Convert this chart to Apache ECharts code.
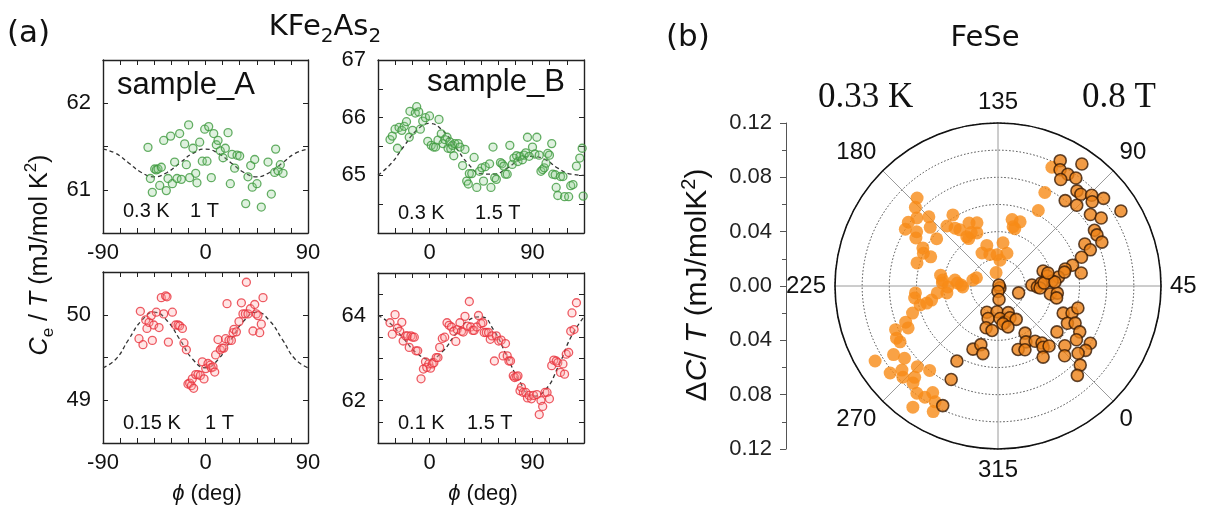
<!DOCTYPE html>
<html><head><meta charset="utf-8">
<script src="https://cdn.jsdelivr.net/npm/echarts@6/dist/echarts.min.js"></script>
<style>html,body{margin:0;padding:0;background:#fff}#c{width:1211px;height:510px}</style>
</head><body><div id="c"></div>
<script>
// ---------- DATA ----------
// Panel (a) top-left: sample_A, 0.3 K, 1 T  [phi(deg), Ce/T]
const sampleA_03K = [[-50.5,61.49],[-48.4,61.13],[-44.6,61.24],[-43.2,61.23],[-41.7,61.24],[-40.2,61.05],[-46.7,60.97],[-38.8,61.26],[-36.7,61.57],[-34.4,60.99],[-32.9,61.13],[-30.6,61.62],[-29.1,61.07],[-27.1,61.32],[-25.0,61.13],[-22.7,61.65],[-21.2,61.12],[-18.3,61.53],[-16.8,61.29],[-14.8,61.75],[-13.9,61.14],[-11.0,61.48],[-8.6,61.19],[-7.5,61.08],[-5.1,61.55],[-2.8,61.33],[-0.7,61.70],[1.3,61.33],[2.8,61.73],[5.1,61.14],[7.2,61.65],[9.5,61.52],[11.0,61.57],[13.0,61.45],[15.4,61.37],[17.4,61.48],[19.8,61.66],[21.8,61.07],[23.3,61.41],[25.6,61.25],[27.7,61.40],[30.0,61.39],[35.3,60.84],[37.3,61.15],[39.7,61.28],[41.1,61.03],[43.2,61.35],[45.2,61.07],[49.0,60.80],[54.9,61.32],[57.8,60.95],[60.7,61.20],[61.6,61.47],[63.7,61.22],[65.7,61.29],[68.1,61.19]];
const fitPhiA = [-90,-78.75,-67.5,-56.25,-45,-33.75,-22.5,-11.25,0,11.25,22.5,33.75,45,56.25,67.5,78.75,90];
const fitA_03K = [61.47,61.42,61.31,61.20,61.15,61.20,61.31,61.42,61.47,61.42,61.31,61.20,61.15,61.20,61.31,61.42,61.47];

// Panel (a) top-right: sample_B, 0.3 K, 1.5 T
const sampleB_03K = [[-34.5,65.62],[-32.5,65.68],[-30.1,65.80],[-28.0,65.47],[-26.6,65.83],[-24.2,65.78],[-22.1,65.85],[-20.1,65.93],[-17.7,65.66],[-17.1,66.11],[-14.8,65.78],[-12.4,66.08],[-11.2,66.19],[-9.4,66.10],[-8.0,65.80],[-5.9,65.94],[-3.5,66.00],[-1.5,65.59],[0,66.03],[1.5,65.52],[3.5,65.49],[5.3,65.49],[7.4,65.61],[8.3,65.97],[10.3,65.72],[11.8,65.55],[13.3,65.62],[15.3,65.66],[16.2,65.47],[17.7,65.58],[18.6,65.46],[20.1,65.52],[21.2,65.34],[22.1,65.55],[25.1,65.55],[26.6,65.49],[28.9,65.17],[31.0,65.45],[32.5,64.90],[33.9,64.85],[34.8,65.03],[36.9,65.03],[39.0,65.31],[41.3,64.79],[43.7,65.07],[45.7,65.13],[47.2,64.90],[48.7,65.15],[52.5,65.20],[53.7,64.79],[55.5,65.49],[57.0,64.96],[58.4,64.93],[62.0,65.22],[63.4,65.20],[64.9,65.16],[66.4,65.02],[67.9,65.02],[70.2,65.52],[72.3,65.19],[73.8,65.30],[76.1,65.34],[77.3,65.24],[79.1,65.33],[81.2,65.27],[82.6,65.35],[84.1,65.39],[85.6,65.66],[87.1,65.33],[90.0,65.49],[92.1,65.37],[93.8,65.66],[95.9,65.35],[97.4,65.07],[98.9,65.10],[100.3,65.13],[101.8,65.21],[103.3,65.38],[104.8,65.35],[106.8,65.55],[107.7,65.02],[109.8,65.01],[110.7,64.79],[112.1,64.65],[114.5,64.98],[116.6,64.98],[118.0,64.63],[121.6,64.63],[123.4,64.82],[125.4,64.84],[128.4,65.16],[131.3,65.30],[133.4,65.47],[134.3,64.64]];
const fitPhiB = [-45,-33.75,-22.5,-11.25,0,11.25,22.5,33.75,45,56.25,67.5,78.75,90,101.25,112.5,123.75,135];
const fitB_03K = [65.00,65.20,65.50,65.78,65.90,65.78,65.50,65.20,65.03,65.02,65.12,65.27,65.33,65.27,65.12,65.02,65.00];

// Panel (a) bottom-left: sample_A, 0.15 K, 1 T
const sampleA_015K = [[-58.4,49.72],[-57.2,50.04],[-54.9,49.65],[-52.5,49.94],[-51.4,49.84],[-49.6,49.91],[-47.6,49.99],[-46.7,49.70],[-45.5,49.88],[-43.2,50.03],[-40.8,49.85],[-38.8,50.20],[-36.7,50.01],[-35.0,50.22],[-33.8,50.21],[-32.6,49.68],[-29.1,50.03],[-26.2,49.88],[-24.1,49.88],[-22.7,49.87],[-20.3,49.84],[-18.9,49.67],[-16.8,49.59],[-15.4,49.19],[-13.9,49.20],[-12.4,49.17],[-11.6,49.25],[-10.4,49.14],[-8.6,49.30],[-6.6,49.30],[-4.5,49.29],[-2.8,49.45],[-1.3,49.25],[0.2,49.37],[2.2,49.43],[4.2,49.41],[5.1,49.38],[6.6,49.39],[8.1,49.33],[8.9,49.53],[11.0,49.71],[13.0,49.59],[14.5,49.61],[16.0,49.61],[17.7,49.72],[18.9,50.13],[20.6,49.70],[22.7,49.70],[24.2,49.79],[25.0,49.83],[27.1,49.80],[29.4,49.92],[31.5,50.14],[32.9,50.01],[35.0,50.01],[35.9,50.38],[37.3,50.01],[39.4,50.07],[41.7,49.81],[43.2,50.12],[44.6,50.01],[46.1,49.99],[47.6,49.79],[49.0,49.89],[50.5,50.20]];
const fitA_015K = [49.38,49.48,49.71,49.93,50.03,49.93,49.71,49.48,49.38,49.48,49.71,49.93,50.03,49.93,49.71,49.48,49.38];

// Panel (a) bottom-right: sample_B, 0.1 K, 1.5 T
const sampleB_01K = [[-34.5,63.83],[-32.5,63.56],[-30.1,64.02],[-28.0,63.70],[-26.0,63.63],[-24.2,63.84],[-23.0,63.40],[-20.7,63.52],[-19.2,63.52],[-17.7,63.25],[-16.2,63.52],[-14.8,63.49],[-13.3,63.49],[-11.8,63.17],[-10.3,63.17],[-7.4,62.51],[-5.3,62.74],[-3.5,62.91],[-2.4,62.78],[-0.6,62.86],[0.9,62.76],[2.4,62.86],[3.8,62.89],[5.9,63.01],[7.4,63.01],[8.9,63.25],[11.2,63.46],[13.3,63.49],[15.3,63.83],[17.1,63.77],[19.2,63.73],[21.2,63.63],[23.0,63.39],[24.2,63.67],[26.6,63.83],[28.0,63.63],[29.5,63.61],[31.0,63.98],[33.1,63.75],[34.8,64.33],[36.0,63.73],[37.8,63.65],[39.0,63.65],[41.3,63.73],[42.8,64.00],[44.9,63.81],[46.6,63.83],[47.8,63.60],[49.6,63.60],[51.6,63.60],[53.1,63.44],[54.6,63.52],[56.7,62.93],[58.4,63.52],[60.5,63.40],[62.6,63.42],[64.3,63.05],[66.4,63.34],[67.9,63.05],[69.4,62.93],[70.8,62.93],[73.2,62.58],[74.4,62.54],[76.1,62.56],[77.3,62.58],[79.1,62.23],[80.3,62.31],[82.0,62.19],[84.1,62.19],[85.6,62.06],[87.1,62.12],[89.1,62.04],[90.9,62.12],[93.8,62.14],[95.9,61.67],[97.4,62.00],[98.9,61.86],[100.9,62.19],[102.7,62.19],[104.8,62.04],[106.8,62.82],[108.6,62.95],[110.7,62.93],[112.1,62.89],[114.5,62.66],[116.6,62.86],[118.0,62.62],[119.5,63.09],[121.6,63.13],[123.4,63.63],[124.5,64.06],[126.3,63.67],[128.4,64.30]];
const fitB_01K = [64.00,63.80,63.45,63.12,62.97,63.15,63.55,63.88,63.97,63.65,63.05,62.45,62.10,62.25,62.80,63.50,63.97];

// Panel (b): FeSe polar, [radius dC/T (mJ/molK^2), angle (deg)]
const fese_open = [[0.088,177.6],[0.084,181.4],[0.078,185.0],[0.081,189.6],[0.080,193.5],[0.072,191.3],[0.070,194.7],[0.072,180.0],[0.066,184.1],[0.057,187.4],[0.062,198.1],[0.060,201.3],[0.054,201.6],[0.062,209.1],[0.062,167.4],[0.058,175.4],[0.053,171.6],[0.050,169.2],[0.051,159.7],[0.049,153.4],[0.044,161.6],[0.041,166.7],[0.031,150.4],[0.027,160.9],[0.024,149.5],[0.023,136.8],[0.032,128.4],[0.025,119.7],[0.019,130.6],[0.050,123.0],[0.045,120.7],[0.050,116.0],[0.044,118.7],[0.010,143.1],[0.017,204.1],[0.043,214.3],[0.041,221.9],[0.030,220.8],[0.026,226.6],[0.096,110.6],[0.077,108.4],[0.063,106.9],[0.032,217.1],[0.019,211.5],[0.043,167.3],[0.042,156.6],[0.062,233.2],[0.045,231.5],[0.038,232.8],[0.037,226.1],[0.041,218.9],[0.027,223.4],[0.050,237.0],[0.054,238.5],[0.059,238.7],[0.066,242.6],[0.073,246.4],[0.073,250.0],[0.082,248.1],[0.084,252.2],[0.083,254.7],[0.092,258.3],[0.087,262.7],[0.106,256.4],[0.102,263.9],[0.094,266.2],[0.097,268.8],[0.084,270.0],[0.091,272.6],[0.080,276.0],[0.095,273.8],[0.099,277.9],[0.098,281.7],[0.092,283.5],[0.097,286.5],[0.109,279.9],[0.104,287.7],[0.061,229.8]];
const fese_edged = [[0.103,108.6],[0.109,100.5],[0.097,106.9],[0.097,103.0],[0.098,99.2],[0.091,104.5],[0.091,95.3],[0.091,92.9],[0.096,89.1],[0.101,84.7],[0.080,96.8],[0.083,90.7],[0.093,86.8],[0.106,76.4],[0.086,82.7],[0.091,78.4],[0.082,75.0],[0.082,72.3],[0.083,67.9],[0.071,70.8],[0.073,66.4],[0.065,64.0],[0.057,60.6],[0.051,59.2],[0.062,53.9],[0.035,63.4],[0.037,56.5],[0.045,53.4],[0.040,50.3],[0.025,46.7],[0.029,43.6],[0.032,48.9],[0.002,0],[0.016,26.6],[0.039,36.3],[0.044,38.2],[0.001,90],[0.004,315],[0.010,319.4],[0.031,42.3],[0.034,48.7],[0.042,49.0],[0.038,59.6],[0.050,56.8],[0.044,33.5],[0.021,292.1],[0.019,312.8],[0.021,336.0],[0.025,298.1],[0.024,318.5],[0.027,326.0],[0.025,335.6],[0.028,343.6],[0.028,322.5],[0.032,299.1],[0.033,307.4],[0.031,328.7],[0.052,22.4],[0.058,25.0],[0.061,29.6],[0.058,16.8],[0.063,19.3],[0.055,7.1],[0.069,15.7],[0.070,10.6],[0.080,13.2],[0.080,8.7],[0.077,5.0],[0.084,1.1],[0.088,356.6],[0.040,344.9],[0.046,341.6],[0.049,348.9],[0.053,352.7],[0.056,351.4],[0.058,355.4],[0.049,332.6],[0.051,337.9],[0.062,347.4],[0.066,3.2],[0.071,358.7],[0.050,293.4],[0.045,298.7],[0.051,302.4],[0.063,286.3],[0.077,288.4],[0.097,290.2]];

// Axis ranges / tick labels
const panelX = [[-90,90],[-45,135],[-90,90],[-45,135]];
const panelY = [[60.5,62.5],[64,67],[48.5,50.5],[61,65]];
const yLabelSets = [[61,62],[65,66,67],[49,50],[62,64]];
const xLabelSet = [-90,0,90];

// ---------- CHART ----------
const SANS = "'Liberation Sans', Arial, sans-serif";
const VERD = "'DejaVu Sans', Verdana, sans-serif";
const SERIF = "'Liberation Serif', 'Times New Roman', serif";
const chart = echarts.init(document.getElementById('c'), null, {renderer:'canvas'});
const gridBoxes = [
  {left:103, top:60, width:205, height:173},
  {left:378, top:60, width:206, height:173},
  {left:103, top:272, width:205, height:171},
  {left:378, top:273, width:206, height:170},
  {left:786, top:123, width:1, height:326}
];
const lineC = '#222';
const xAxes = [], yAxes = [];
for (let i=0;i<4;i++){
  const base = {type:'value', gridIndex:i, min:panelX[i][0], max:panelX[i][1], interval:15,
    axisLine:{onZero:false, lineStyle:{color:lineC, width:1.4}}, splitLine:{show:false},
    axisTick:{inside:true, length:5, lineStyle:{color:lineC, width:1}}};
  xAxes.push(Object.assign({}, base, {position:'bottom',
    axisLabel:{fontFamily:SANS, fontSize:22, color:'#111', margin:9,
      formatter:v=> xLabelSet.indexOf(v)>=0 ? String(v) : ''}}));
  xAxes.push(Object.assign({}, base, {position:'top', axisLabel:{show:false}}));
  const yb = {type:'value', gridIndex:i, min:panelY[i][0], max:panelY[i][1], interval:0.5,
    axisLine:{onZero:false, lineStyle:{color:lineC, width:1.4}}, splitLine:{show:false},
    axisTick:{inside:true, length:5, lineStyle:{color:lineC, width:1}}};
  const labs = yLabelSets[i];
  yAxes.push(Object.assign({}, yb, {position:'left',
    axisLabel:{fontFamily:SANS, fontSize:22, color:'#111', margin:12,
      formatter:v=> labs.indexOf(Math.round(v*100)/100)>=0 ? String(v) : ''}}));
  yAxes.push(Object.assign({}, yb, {position:'right', axisLabel:{show:false}}));
}
// radial scale of panel (b)
xAxes.push({type:'value', gridIndex:4, show:false, min:0, max:1});
yAxes.push({type:'value', gridIndex:4, min:-0.12, max:0.12, interval:0.04, position:'left',
  axisLine:{show:true, lineStyle:{color:'#555', width:1}},
  axisTick:{show:true, inside:false, length:6, lineStyle:{color:'#555'}},
  minorTick:{show:true, splitNumber:2, length:4, lineStyle:{color:'#555'}},
  splitLine:{show:false},
  axisLabel:{fontFamily:SANS, fontSize:22, color:'#222', margin:14,
    formatter:v=> Math.abs(v).toFixed(2)}});

function scat(i, data, stroke, fill){
  return {type:'scatter', xAxisIndex:2*i, yAxisIndex:2*i, data:data, symbol:'circle', symbolSize:8,
    itemStyle:{color:fill, borderColor:stroke, borderWidth:1.3}, z:3, silent:true};
}
function fit(i, phis, vals){
  return {type:'line', xAxisIndex:2*i, yAxisIndex:2*i, data:phis.map((p,k)=>[p, vals[k]]),
    showSymbol:false, smooth:true, lineStyle:{color:'#333', width:1.3, type:[4,3]}, z:2, silent:true};
}
const green = '#3e9a3e', greenF = 'rgba(140,205,140,0.35)';
const red = '#e8333d', redF = 'rgba(255,160,160,0.35)';

const richA = {
  i:{fontStyle:'italic', fontFamily:SANS, fontSize:25, lineHeight:34},
  n:{fontFamily:SANS, fontSize:25, lineHeight:34},
  sub:{fontFamily:SANS, fontSize:17, verticalAlign:'bottom'},
  sup:{fontFamily:SANS, fontSize:17, verticalAlign:'top'}
};
function txt(x,y,text,font,align){
  return {type:'text', x:x, y:y, silent:true, style:{text:text, font:font, fill:'#111', align:align||'left', verticalAlign:'middle'}};
}
const phiRich = {i:{fontStyle:'italic', fontFamily:SANS, fontSize:22}, n:{fontFamily:SANS, fontSize:22}};

const option = {
  backgroundColor:'#fff',
  animation:false,
  grid: gridBoxes.map(g=>Object.assign({containLabel:false}, g)),
  xAxis: xAxes,
  yAxis: yAxes,
  polar: {center:[998,286], radius:163},
  angleAxis: {type:'value', min:0, max:360, interval:45, startAngle:315, clockwise:false,
    axisLine:{show:true, lineStyle:{color:'#111', width:1.6}},
    axisTick:{show:false},
    axisLabel:{fontFamily:SANS, fontSize:24, color:'#111', margin:9},
    splitLine:{show:true, lineStyle:{color:'#9a9a9a', width:1}}},
  radiusAxis: {type:'value', min:0, max:0.12, interval:0.02,
    axisLine:{show:false}, axisTick:{show:false}, axisLabel:{show:false},
    splitLine:{show:true, lineStyle:{type:[1.5,2], color:'#444', width:1}}},
  series: [
    fit(0, fitPhiA, fitA_03K), scat(0, sampleA_03K, green, greenF),
    fit(1, fitPhiB, fitB_03K), scat(1, sampleB_03K, green, greenF),
    fit(2, fitPhiA, fitA_015K), scat(2, sampleA_015K, red, redF),
    fit(3, fitPhiB, fitB_01K), scat(3, sampleB_01K, red, redF),
    {type:'scatter', coordinateSystem:'polar', data:fese_open, symbolSize:13,
      itemStyle:{color:'#f88b17'}, z:3, silent:true},
    {type:'scatter', coordinateSystem:'polar', data:fese_edged, symbolSize:12,
      itemStyle:{color:'#ee8216', borderColor:'#3a1c05', borderWidth:1.6}, z:4, silent:true}
  ],
  graphic: [
    txt(7, 34, '(a)', '31px '+VERD),
    {type:'text', x:325, y:27, silent:true, style:{text:'{n|KFe}{s|2}{n|As}{s|2}', align:'center', verticalAlign:'middle', fill:'#111',
      rich:{n:{fontFamily:VERD, fontSize:29, lineHeight:40}, s:{fontFamily:VERD, fontSize:20, verticalAlign:'bottom'}}}},
    txt(666, 38, '(b)', '31px '+VERD),
    txt(985, 38, 'FeSe', '29px '+VERD, 'center'),
    txt(117, 85, 'sample_A', '31px '+SANS),
    txt(427, 82, 'sample_B', '31px '+SANS),
    txt(123, 211, '0.3 K', '20px '+SANS), txt(190, 211, '1 T', '20px '+SANS),
    txt(398, 213, '0.3 K', '20px '+SANS), txt(475, 213, '1.5 T', '20px '+SANS),
    txt(123, 423, '0.15 K', '20px '+SANS), txt(205, 423, '1 T', '20px '+SANS),
    txt(398, 423, '0.1 K', '20px '+SANS), txt(467, 423, '1.5 T', '20px '+SANS),
    {type:'text', x:207, y:494, silent:true, style:{text:'{i|ϕ}{n| (deg)}', align:'center', verticalAlign:'middle', fill:'#111', rich:phiRich}},
    {type:'text', x:483, y:494, silent:true, style:{text:'{i|ϕ}{n| (deg)}', align:'center', verticalAlign:'middle', fill:'#111', rich:phiRich}},
    {type:'text', x:40, y:255, rotation:Math.PI/2, silent:true, style:{text:'{i|C}{sub|e}{n| / }{i|T}{n| (mJ/mol K}{sup|2}{n|)}', align:'center', verticalAlign:'middle', fill:'#111', rich:richA}},
    {type:'text', x:698, y:285, rotation:Math.PI/2, silent:true, style:{text:'{n|Δ}{i|C}{n|/ }{i|T}{n| (mJ/molK}{sup|2}{n|)}', align:'center', verticalAlign:'middle', fill:'#111',
      rich:{i:{fontStyle:'italic', fontFamily:SANS, fontSize:30, lineHeight:38}, n:{fontFamily:SANS, fontSize:30, lineHeight:38}, sup:{fontFamily:SANS, fontSize:20, verticalAlign:'top'}}}},
    txt(818, 98, '0.33 K', '35px '+SERIF),
    txt(1082, 98, '0.8 T', '35px '+SERIF)
  ]
};
chart.setOption(option);
</script>
</body></html>
